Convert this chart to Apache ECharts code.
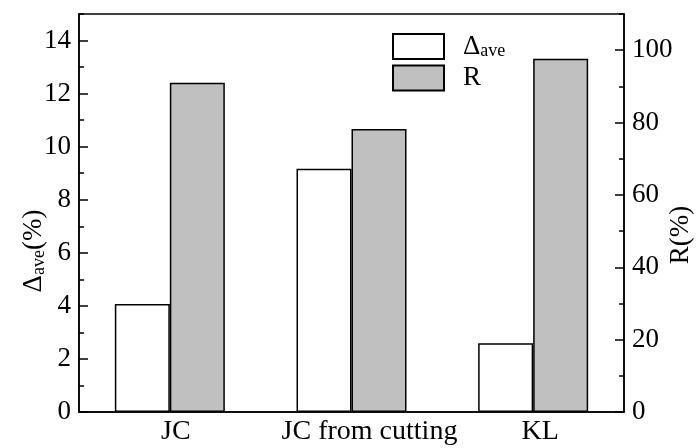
<!DOCTYPE html>
<html>
<head>
<meta charset="utf-8">
<script src="https://cdn.jsdelivr.net/npm/echarts@6/dist/echarts.min.js"></script>
<style>html,body{margin:0;padding:0;background:#fff;}#c{width:697px;height:448px;}</style>
</head>
<body>
<div id="c"></div>
<script>
const categories = ['JC', 'JC from cutting', 'KL'];
const deltaAve = [4.07, 9.17, 2.59];
const rValues = [91.0, 78.2, 97.6];
const leftTicks = [0, 2, 4, 6, 8, 10, 12, 14];
const rightTicks = [0, 20, 40, 60, 80, 100];

const FONT = 'Liberation Serif';
const FS = 27;
const chart = echarts.init(document.getElementById('c'));
const lineStyle = { color: '#000', width: 1.5 };
chart.setOption({
  animation: false,
  backgroundColor: '#fff',
  textStyle: { fontFamily: FONT, color: '#000' },
  grid: { left: 79, right: 73, top: 14, bottom: 36, outerBoundsMode: 'none', containLabel: false,
          show: true, borderColor: '#000', borderWidth: 1.5, backgroundColor: 'transparent' },
  legend: {
    left: 387, top: 28, orient: 'vertical', itemWidth: 51, itemHeight: 25, itemGap: 4,
    icon: 'rect',
    textStyle: {
      fontFamily: FONT, fontSize: FS, color: '#000', padding: [0, 0, 0, 14],
      rich: {
        a: { fontFamily: FONT, fontSize: FS, color: '#000' },
        b: { fontFamily: FONT, fontSize: 18, color: '#000', padding: [10, 0, 0, 0] }
      }
    },
    formatter: function (n) { return n === 'Dave' ? '{a|Δ}{b|ave}' : '{a|R}'; },
    data: ['Dave', 'R']
  },
  xAxis: {
    type: 'category', data: categories,
    axisLine: { lineStyle: lineStyle },
    axisTick: { show: false },
    axisLabel: {
      interval: 0, fontFamily: FONT, fontSize: 28, color: '#000', margin: 6,
      formatter: function (v, i) { return '{r' + i + '|' + v + '}'; },
      rich: {
        r0: { fontFamily: FONT, fontSize: 28, color: '#000', padding: [0, 0, 0, 12] },
        r1: { fontFamily: FONT, fontSize: 28, color: '#000', padding: [0, 0, 0, 36] },
        r2: { fontFamily: FONT, fontSize: 28, color: '#000', padding: [0, 0, 0, 14] }
      }
    },
    splitLine: { show: false }
  },
  yAxis: [
    {
      type: 'value', position: 'left', min: 0, max: 15, interval: 2,
      axisLine: { show: true, lineStyle: lineStyle },
      axisTick: { show: true, inside: true, length: 9, lineStyle: lineStyle, customValues: leftTicks },
      axisLabel: { fontFamily: FONT, fontSize: FS, color: '#000', margin: 8, customValues: leftTicks },
      splitLine: { show: false },
      name: '{a|Δ}{b|ave}{a|(%)}', nameLocation: 'middle', nameGap: 31, nameMoveOverlap: false,
      nameTextStyle: {
        padding: [0, 76, 0, 0],
        rich: {
          a: { fontFamily: FONT, fontSize: FS, color: '#000' },
          b: { fontFamily: FONT, fontSize: 18, color: '#000', padding: [10, 0, 0, 0] }
        }
      }
    },
    {
      type: 'value', position: 'left', min: 0, max: 15, interval: 1,
      axisLine: { show: false },
      axisTick: { show: true, inside: true, length: 5, lineStyle: lineStyle },
      axisLabel: { show: false },
      splitLine: { show: false }
    },
    {
      type: 'value', position: 'right', min: 0, max: 110, interval: 20,
      axisLine: { show: true, lineStyle: lineStyle },
      axisTick: { show: true, inside: true, length: 9, lineStyle: lineStyle, customValues: rightTicks },
      axisLabel: { fontFamily: FONT, fontSize: FS, color: '#000', margin: 8, customValues: rightTicks },
      splitLine: { show: false },
      name: 'R(%)', nameLocation: 'middle', nameGap: 43, nameRotate: 90, nameMoveOverlap: false,
      nameTextStyle: { fontFamily: FONT, fontSize: FS, color: '#000', padding: [0, 44, 0, 0] }
    },
    {
      type: 'value', position: 'right', min: 0, max: 110, interval: 10,
      axisLine: { show: false },
      axisTick: { show: true, inside: true, length: 5, lineStyle: lineStyle },
      axisLabel: { show: false },
      splitLine: { show: false }
    }
  ],
  series: [
    { name: 'Dave', type: 'bar', yAxisIndex: 0, data: deltaAve, barWidth: 55, barGap: '0%',
      itemStyle: { color: '#fff', borderColor: '#000', borderWidth: 1.5 } },
    { name: 'R', type: 'bar', yAxisIndex: 2, data: rValues, barWidth: 55, barGap: '0%',
      itemStyle: { color: '#c0c0c0', borderColor: '#000', borderWidth: 1.5 } }
  ]
});
</script>
</body>
</html>
